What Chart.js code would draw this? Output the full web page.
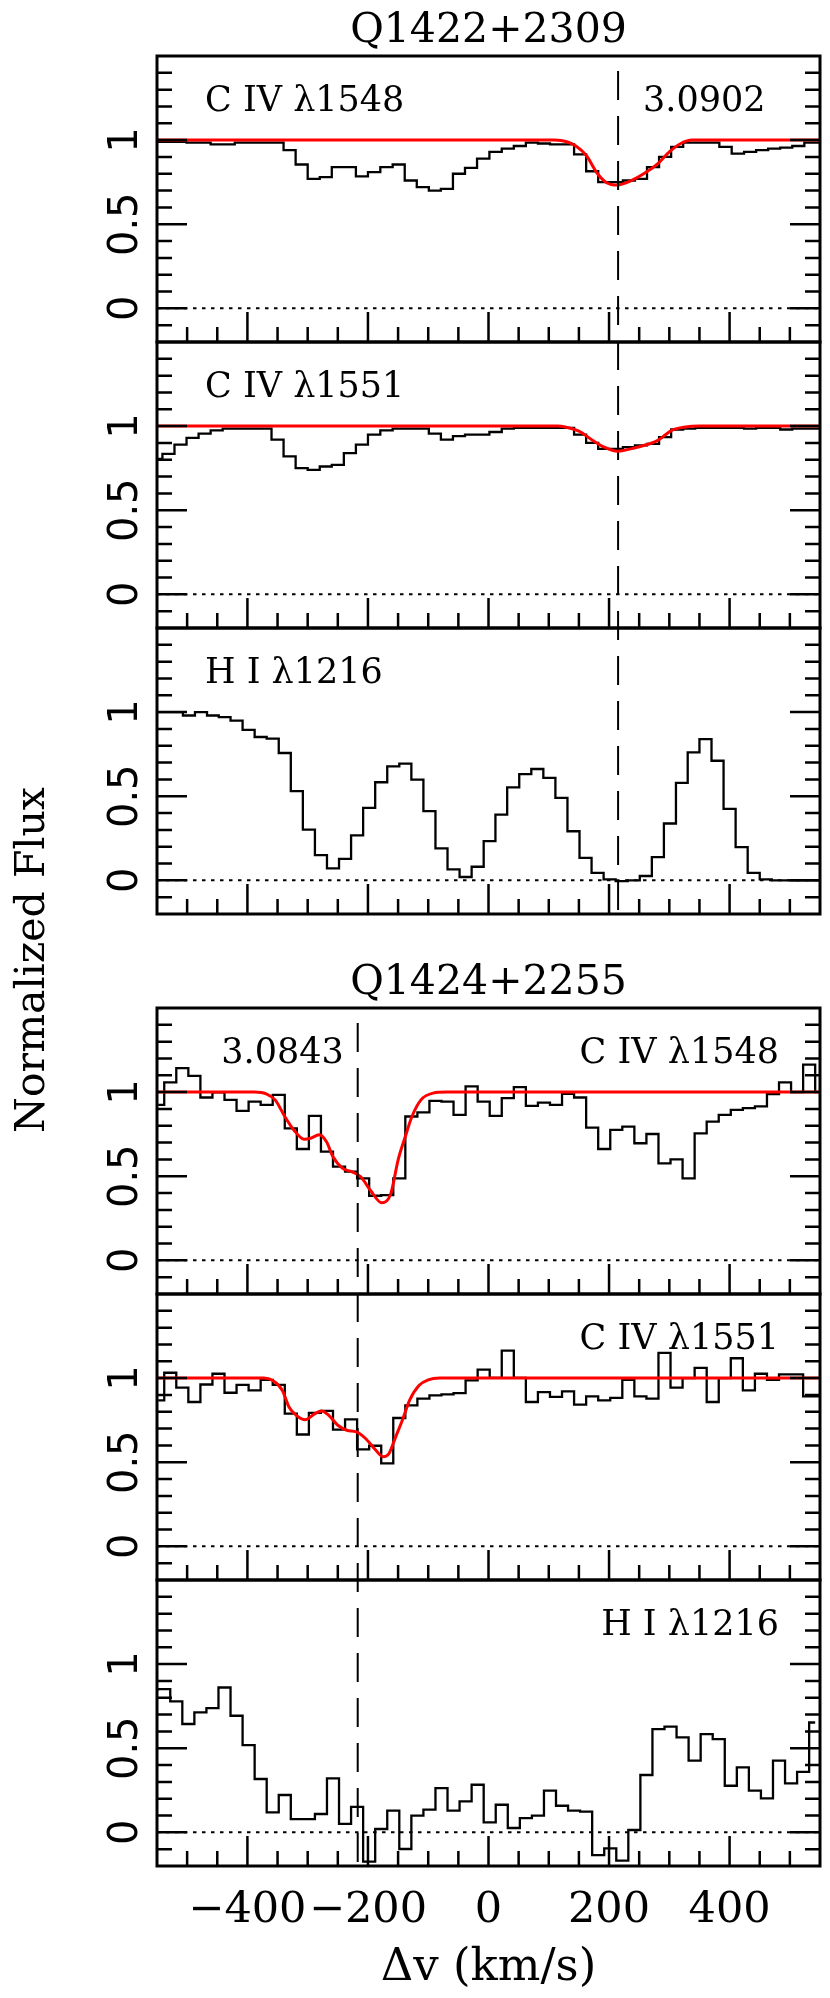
<!DOCTYPE html>
<html>
<head>
<meta charset="utf-8">
<title>Q1422+2309 / Q1424+2255 velocity plots</title>
<script src="https://cdn.jsdelivr.net/npm/chart.js@4.4.1/dist/chart.umd.min.js"></script>
<style>
  html, body { margin: 0; padding: 0; background: #fff; }
  #page { position: relative; width: 830px; height: 1998px; }
  #page canvas { position: absolute; left: 0; top: 0; }
</style>
</head>
<body>
<div id="page">
  <canvas id="p1" width="830" height="1998"></canvas>
  <canvas id="p2" width="830" height="1998"></canvas>
  <canvas id="p3" width="830" height="1998"></canvas>
  <canvas id="p4" width="830" height="1998"></canvas>
  <canvas id="p5" width="830" height="1998"></canvas>
  <canvas id="p6" width="830" height="1998"></canvas>
</div>
<script>
// axis ticks (km/s and normalized flux)
const xTickLabels = [-400, -200, 0, 200, 400];
const yTickLabels = [0, 0.5, 1];

// Q1422+2309, z = 3.0902 : bin centres in km/s
const velQ1422CIV = [-551, -531, -511, -491, -471, -451, -431, -411, -391, -370, -350, -330, -310, -290,
  -270, -250, -230, -210, -190, -169, -149, -129, -109, -89, -69, -49, -29, -9, 12, 32, 52, 72, 92, 112,
  132, 152, 172, 192, 213, 233, 253, 273, 293, 313, 333, 353, 373, 393, 414, 434, 454, 474, 494, 514, 534, 554];
const fluxQ1422C1548 = [0.99, 0.99, 0.99, 0.985, 0.985, 0.975, 0.975, 0.985, 0.985, 0.985, 0.985, 0.94, 0.855,
  0.77, 0.78, 0.84, 0.84, 0.785, 0.81, 0.84, 0.855, 0.76, 0.72, 0.70, 0.71, 0.80, 0.835, 0.89, 0.93, 0.95,
  0.965, 0.985, 0.98, 0.975, 0.975, 0.915, 0.815, 0.75, 0.75, 0.76, 0.77, 0.84, 0.90, 0.96, 0.985, 0.985,
  0.985, 0.96, 0.92, 0.93, 0.94, 0.95, 0.955, 0.965, 0.985, 0.985];
const fluxQ1422C1551 = [0.805, 0.835, 0.89, 0.93, 0.955, 0.975, 0.985, 0.985, 0.985, 0.985, 0.92, 0.82, 0.75,
  0.74, 0.76, 0.77, 0.84, 0.89, 0.95, 0.975, 0.985, 0.985, 0.985, 0.955, 0.92, 0.94, 0.95, 0.95, 0.965, 0.985,
  0.99, 0.99, 0.99, 0.99, 0.99, 0.95, 0.90, 0.865, 0.865, 0.875, 0.885, 0.895, 0.935, 0.98, 0.985, 0.99, 0.99,
  0.99, 0.99, 0.985, 0.99, 0.99, 0.98, 0.985, 0.985, 0.985];
const velQ1422HI = [-557, -537, -517, -497, -477, -457, -438, -418, -398, -378, -358, -338, -318, -298, -278,
  -258, -238, -218, -198, -178, -158, -138, -118, -98, -78, -58, -38, -18, 2, 21, 41, 61, 81, 101, 121, 141,
  161, 181, 201, 221, 241, 261, 281, 301, 321, 340, 360, 380, 400, 420, 440, 460, 480, 500, 520, 540, 560];
const fluxQ1422HI = [1.0, 1.0, 1.0, 0.98, 1.0, 0.98, 0.97, 0.949, 0.895, 0.852, 0.842, 0.757, 0.53, 0.302,
  0.15, 0.071, 0.128, 0.267, 0.431, 0.583, 0.678, 0.694, 0.599, 0.411, 0.19, 0.065, 0.02, 0.081, 0.233, 0.391,
  0.553, 0.632, 0.662, 0.609, 0.49, 0.292, 0.134, 0.045, 0.006, -0.004, 0.0, 0.026, 0.138, 0.338, 0.579,
  0.761, 0.84, 0.711, 0.425, 0.198, 0.045, 0.006, 0.0, 0.0, 0.0, 0.0, 0.0];
// Voigt profile fits
const fitVelQ1422C1548 = [-550, 110, 130, 145, 162, 181, 196, 214, 235, 262, 281, 300, 319, 338, 550];
const fitFluxQ1422C1548 = [1, 1, 0.99, 0.965, 0.91, 0.8, 0.747, 0.733, 0.756, 0.81, 0.86, 0.93, 0.98, 1, 1];
const fitVelQ1422C1551 = [-550, 115, 127, 150, 173, 192, 214, 242, 281, 304, 327, 350, 550];
const fitFluxQ1422C1551 = [1, 1, 0.995, 0.97, 0.915, 0.875, 0.851, 0.87, 0.915, 0.975, 0.995, 1, 1];

// Q1424+2255, z = 3.0843
const velQ1424CIV = [-548, -528, -508, -488, -468, -448, -428, -408, -388, -368, -348, -328, -308, -288,
  -268, -248, -228, -208, -188, -168, -148, -128, -108, -88, -68, -48, -28, -8, 12, 32, 52, 72, 92, 112,
  132, 152, 172, 192, 212, 232, 252, 272, 292, 312, 332, 352, 372, 392, 412, 432, 452, 472, 492, 512, 532, 552];
const fluxQ1424C1548 = [0.924, 1.058, 1.143, 1.097, 0.968, 0.998, 0.954, 0.889, 0.944, 0.924, 0.984, 0.785,
  0.662, 0.859, 0.646, 0.557, 0.527, 0.487, 0.384, 0.388, 0.487, 0.855, 0.879, 0.948, 0.944, 0.865, 1.034,
  0.944, 0.859, 0.964, 1.03, 0.918, 0.938, 0.924, 0.99, 0.968, 0.789, 0.662, 0.775, 0.795, 0.696, 0.751,
  0.577, 0.6, 0.487, 0.755, 0.825, 0.865, 0.895, 0.905, 0.915, 0.988, 1.058, 1.0, 1.163, 1.0];
const fluxQ1424C1551 = [0.868, 1.032, 0.943, 0.858, 0.962, 1.026, 0.913, 0.96, 0.927, 0.99, 0.96, 0.789,
  0.665, 0.793, 0.805, 0.694, 0.755, 0.576, 0.598, 0.493, 0.763, 0.838, 0.878, 0.897, 0.903, 0.911, 0.986,
  1.051, 1.002, 1.164, 1.002, 0.858, 0.917, 0.888, 0.921, 0.842, 0.892, 0.868, 0.882, 0.99, 0.892, 0.878,
  1.15, 0.943, 1.0, 1.061, 0.858, 1.0, 1.118, 0.927, 1.026, 0.99, 1.022, 1.022, 0.892, 0.892];
const velQ1424HI = [-558, -538, -518, -498, -478, -458, -438, -418, -398, -378, -358, -338, -318, -298, -278,
  -258, -238, -218, -198, -178, -158, -138, -118, -98, -78, -58, -38, -18, 2, 22, 42, 62, 82, 102, 122, 142,
  162, 182, 202, 222, 242, 262, 282, 302, 322, 342, 362, 382, 402, 422, 442, 462, 482, 502, 522, 542];
const fluxQ1424HI = [0.85, 0.851, 0.778, 0.644, 0.713, 0.739, 0.861, 0.693, 0.519, 0.317, 0.119, 0.222, 0.079,
  0.079, 0.109, 0.321, 0.05, 0.152, -0.174, 0.02, 0.129, -0.099, 0.099, 0.135, 0.263, 0.129, 0.184, 0.283,
  0.059, 0.164, 0.026, 0.085, 0.099, 0.248, 0.158, 0.129, 0.123, -0.135, -0.095, -0.168, 0.014, 0.341, 0.614,
  0.628, 0.564, 0.426, 0.584, 0.554, 0.277, 0.386, 0.248, 0.202, 0.426, 0.291, 0.36, 0.653];
const fitVelQ1424C1548 = [-550, -388, -369, -354, -338, -323, -306, -295, -281, -269, -258, -242, -227, -212,
  -196, -177, -162, -150, -138, -127, -112, -92, -69, 550];
const fitFluxQ1424C1548 = [1, 1, 0.99, 0.954, 0.855, 0.775, 0.72, 0.726, 0.746, 0.706, 0.616, 0.547, 0.527,
  0.497, 0.417, 0.342, 0.398, 0.596, 0.736, 0.855, 0.954, 0.994, 1, 1];
const fitVelQ1424C1551 = [-550, -373, -358, -342, -331, -319, -304, -288, -277, -265, -250, -235, -219, -204,
  -188, -175, -165, -154, -142, -131, -115, -100, -81, 550];
const fitFluxQ1424C1551 = [1, 1, 0.986, 0.927, 0.828, 0.779, 0.753, 0.789, 0.805, 0.779, 0.72, 0.69, 0.68,
  0.641, 0.576, 0.533, 0.552, 0.651, 0.759, 0.868, 0.957, 0.99, 1, 1];

const SERIF = '"DejaVu Serif", "Liberation Serif", serif';
const SANS = '"DejaVu Sans", "Liberation Sans", sans-serif';
const PANEL_H = 286;

// frame, ticks and all the text around one panel
const spectrumFrame = {
  id: 'spectrumFrame',
  afterDraw(chart, args, o) {
    const ctx = chart.ctx;
    const a = chart.chartArea;
    const xs = chart.scales.x;
    const ys = chart.scales.y;
    ctx.save();
    ctx.strokeStyle = '#000';
    ctx.fillStyle = '#000';

    // dotted zero level
    ctx.lineWidth = 2;
    ctx.setLineDash([3.5, 5.5]);
    const y0 = ys.getPixelForValue(0);
    ctx.beginPath();
    ctx.moveTo(a.left, y0);
    ctx.lineTo(a.right, y0);
    ctx.stroke();

    // dashed line at the absorber redshift, drawn once through the 3 panels
    if (o.markerSpan) {
      const mx = xs.getPixelForValue(o.marker);
      ctx.setLineDash([29, 16]);
      ctx.lineDashOffset = 30;
      ctx.beginPath();
      ctx.moveTo(mx, a.top);
      ctx.lineTo(mx, a.top + o.markerSpan);
      ctx.stroke();
    }
    ctx.setLineDash([]);

    // inward ticks
    ctx.lineWidth = 2.5;
    ctx.beginPath();
    for (let v = -500; v <= 500; v += 50) {
      const px = xs.getPixelForValue(v);
      const len = v % 200 === 0 ? 30 : 15;
      ctx.moveTo(px, a.bottom);
      ctx.lineTo(px, a.bottom - len);
    }
    for (let i = -1; i <= 14; i++) {
      const py = ys.getPixelForValue(i / 10);
      const len = i % 5 === 0 ? 30 : 15;
      ctx.moveTo(a.left, py);
      ctx.lineTo(a.left + len, py);
      ctx.moveTo(a.right, py);
      ctx.lineTo(a.right - len, py);
    }
    ctx.stroke();
    ctx.lineWidth = 3;
    ctx.strokeRect(a.left, a.top, a.width, a.height);

    // rotated y tick labels
    ctx.font = '40px ' + SANS;
    ctx.textAlign = 'center';
    ctx.textBaseline = 'alphabetic';
    yTickLabels.forEach(t => {
      ctx.save();
      ctx.translate(a.left - 20, ys.getPixelForValue(t));
      ctx.rotate(-Math.PI / 2);
      ctx.fillText(String(t), 0, 0);
      ctx.restore();
    });

    // line name and redshift
    ctx.font = '35px ' + SERIF;
    if (o.labelSide === 'left') {
      ctx.textAlign = 'left';
      ctx.fillText(o.label, a.left + 48, a.top + 55);
    } else {
      ctx.textAlign = 'right';
      ctx.fillText(o.label, a.right - 41, a.top + 55);
    }
    if (o.zLabel) {
      const mx = xs.getPixelForValue(o.marker);
      if (o.zSide === 'right') {
        ctx.textAlign = 'left';
        ctx.fillText(o.zLabel, mx + 25, a.top + 55);
      } else {
        ctx.textAlign = 'right';
        ctx.fillText(o.zLabel, mx - 14, a.top + 55);
      }
    }

    // quasar name above the group
    if (o.title) {
      ctx.font = '41px ' + SERIF;
      ctx.textAlign = 'center';
      ctx.fillText(o.title, (a.left + a.right) / 2, a.top - 14);
    }

    // x axis labels under the last panel
    if (o.xAxis) {
      ctx.font = '43px ' + SERIF;
      ctx.textAlign = 'center';
      xTickLabels.forEach(t => {
        const txt = t < 0 ? '\u2212' + Math.abs(t) : String(t);
        ctx.fillText(txt, xs.getPixelForValue(t), a.bottom + 56);
      });
      ctx.font = '45px ' + SERIF;
      ctx.fillText('\u0394v (km/s)', (a.left + a.right) / 2, a.bottom + 114);

      ctx.save();
      ctx.font = '41px ' + SERIF;
      ctx.translate(44, 960);
      ctx.rotate(-Math.PI / 2);
      ctx.fillText('Normalized Flux', 0, 0);
      ctx.restore();
    }
    ctx.restore();
  }
};

function points(xv, yv) {
  return xv.map((v, i) => ({ x: v, y: yv[i] }));
}

function makePanel(p) {
  const datasets = [];
  if (p.fitVel) {
    datasets.push({
      data: points(p.fitVel, p.fitFlux),
      borderColor: '#ff0000',
      borderWidth: 3,
      pointRadius: 0,
      cubicInterpolationMode: 'monotone',
      fill: false
    });
  }
  datasets.push({
    data: points(p.vel, p.flux),
    borderColor: '#000000',
    borderWidth: 2.3,
    pointRadius: 0,
    stepped: 'middle',
    fill: false
  });

  return new Chart(document.getElementById(p.id), {
    type: 'line',
    data: { datasets },
    options: {
      responsive: false,
      animation: false,
      events: [],
      layout: { padding: { left: 157, right: 10, top: p.top, bottom: 1998 - p.top - PANEL_H } },
      scales: {
        x: { type: 'linear', min: -550, max: 550, display: false },
        y: { type: 'linear', min: -0.2, max: 1.5, display: false }
      },
      plugins: {
        legend: { display: false },
        tooltip: { enabled: false },
        spectrumFrame: p
      }
    },
    plugins: [spectrumFrame]
  });
}

const panels = [
  { id: 'p1', top: 56, vel: velQ1422CIV, flux: fluxQ1422C1548, fitVel: fitVelQ1422C1548, fitFlux: fitFluxQ1422C1548,
    label: 'C IV \u03bb1548', labelSide: 'left', marker: 215, markerSpan: 3 * PANEL_H,
    zLabel: '3.0902', zSide: 'right', title: 'Q1422+2309' },
  { id: 'p2', top: 342, vel: velQ1422CIV, flux: fluxQ1422C1551, fitVel: fitVelQ1422C1551, fitFlux: fitFluxQ1422C1551,
    label: 'C IV \u03bb1551', labelSide: 'left', marker: 215 },
  { id: 'p3', top: 628, vel: velQ1422HI, flux: fluxQ1422HI,
    label: 'H I \u03bb1216', labelSide: 'left', marker: 215 },
  { id: 'p4', top: 1008, vel: velQ1424CIV, flux: fluxQ1424C1548, fitVel: fitVelQ1424C1548, fitFlux: fitFluxQ1424C1548,
    label: 'C IV \u03bb1548', labelSide: 'right', marker: -217, markerSpan: 3 * PANEL_H,
    zLabel: '3.0843', zSide: 'left', title: 'Q1424+2255' },
  { id: 'p5', top: 1294, vel: velQ1424CIV, flux: fluxQ1424C1551, fitVel: fitVelQ1424C1551, fitFlux: fitFluxQ1424C1551,
    label: 'C IV \u03bb1551', labelSide: 'right', marker: -217 },
  { id: 'p6', top: 1580, vel: velQ1424HI, flux: fluxQ1424HI,
    label: 'H I \u03bb1216', labelSide: 'right', marker: -217, xAxis: true }
];

panels.forEach(makePanel);
</script>
</body>
</html>
